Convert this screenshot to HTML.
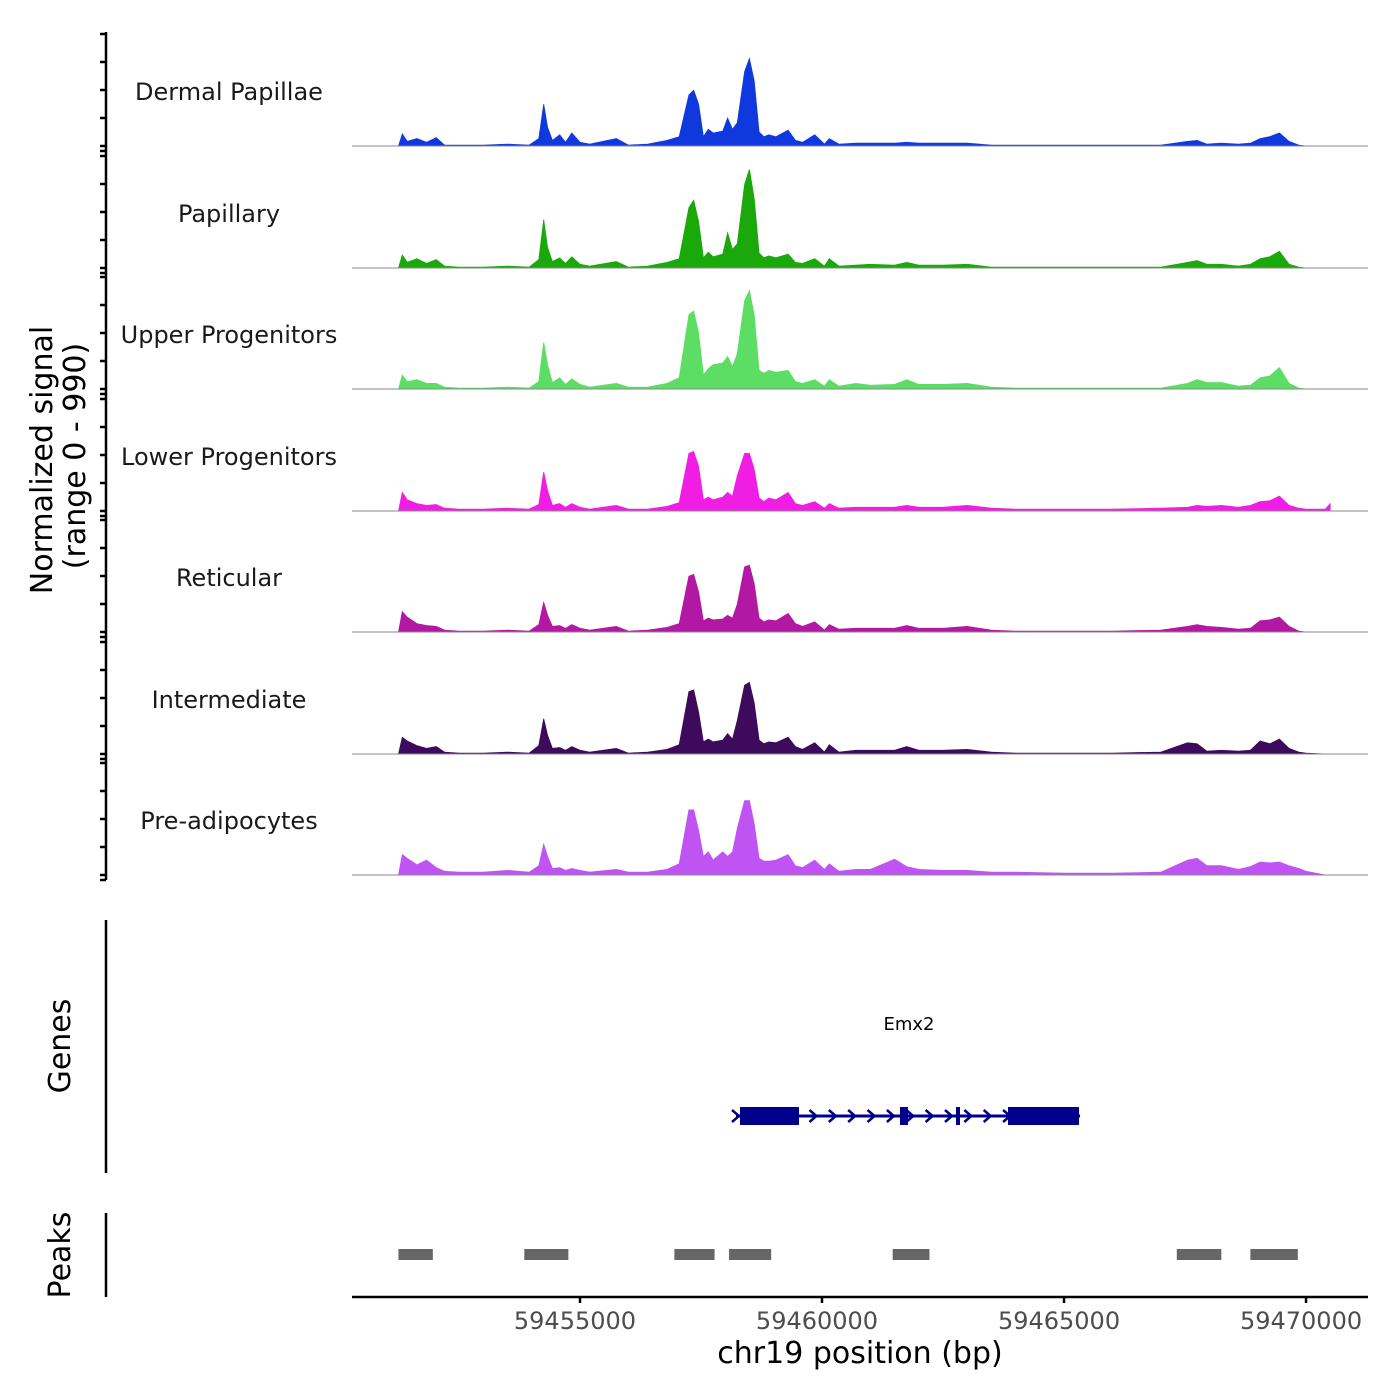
<!DOCTYPE html>
<html><head><meta charset="utf-8"><style>
html,body{margin:0;padding:0;background:#fff;}
svg{display:block;font-family:"DejaVu Sans","Liberation Sans",sans-serif;}
</style></head><body>
<svg id="chart" width="1400" height="1400" viewBox="0 0 1400 1400"></svg>
<script>
// ---- data ----
const trackNames = ["Dermal Papillae","Papillary","Upper Progenitors","Lower Progenitors","Reticular","Intermediate","Pre-adipocytes"];
const trackColors = ["#1039dd","#1aa80b","#5bde63","#f01ee4","#b318a4","#3d0a5c","#c054f3"];
const bins = [59451250,59451330,59451430,59451630,59451830,59452030,59452200,59452500,59453000,59453500,59453950,59454150,59454250,59454330,59454430,59454580,59454700,59454830,59455000,59455200,59455750,59456000,59456400,59456800,59457050,59457250,59457350,59457450,59457550,59457650,59457750,59457950,59458050,59458150,59458250,59458400,59458500,59458600,59458700,59458800,59458900,59459050,59459300,59459450,59459600,59459850,59460050,59460150,59460350,59460700,59461000,59461500,59461750,59462000,59462500,59463000,59463500,59464000,59465000,59466000,59467000,59467550,59467750,59467950,59468250,59468600,59468850,59469050,59469250,59469450,59469650,59469850,59470000,59470400,59470500];
const sigDermal = [0,130,50,80,40,90,10,10,10,20,10,80,450,200,60,120,40,140,40,20,80,10,20,60,100,550,600,450,100,180,140,160,300,180,250,800,940,700,150,100,120,100,170,60,40,120,20,80,20,30,30,30,40,30,30,30,10,10,10,10,10,50,60,20,30,20,30,80,100,140,50,10,0,0,0];
const sigPapillary = [0,140,60,100,50,90,20,10,10,20,10,90,520,220,70,110,50,120,40,20,70,10,20,60,100,650,730,500,110,170,120,150,380,200,260,900,1060,750,160,110,130,110,150,60,50,100,20,100,20,30,40,30,60,30,30,40,10,10,10,10,10,60,80,40,40,20,40,100,120,180,40,10,0,0,0];
const sigUpper = [0,150,80,100,60,60,20,10,10,20,10,80,500,260,70,120,50,110,50,20,60,20,20,60,120,800,840,600,150,220,260,280,350,240,380,950,1060,800,200,170,200,180,200,80,60,100,30,100,30,60,40,50,100,50,50,60,20,10,10,10,10,60,100,70,70,30,40,120,140,230,60,10,0,0,0];
const sigLower = [0,200,120,80,60,70,30,20,20,30,20,70,420,220,60,80,40,80,40,20,60,20,20,50,90,620,640,480,120,150,120,150,200,160,380,620,620,450,140,100,140,120,200,80,60,100,30,80,30,40,40,40,60,40,40,60,30,20,20,20,30,40,60,50,60,40,60,100,110,160,60,30,20,20,80];
const sigReticular = [0,220,160,90,70,60,20,10,10,20,10,80,320,180,60,70,40,80,40,20,60,10,20,50,90,600,620,430,120,150,130,140,180,150,300,700,720,520,150,110,130,120,200,90,60,110,20,80,30,40,40,40,70,40,40,60,20,10,10,10,20,60,80,60,50,30,40,120,130,160,60,10,0,0,0];
const sigInter = [0,180,140,90,60,80,20,10,10,20,10,90,380,200,60,70,40,80,40,20,60,10,20,50,100,670,690,450,130,160,130,150,220,160,360,740,770,550,150,110,130,120,180,80,50,120,20,100,20,40,40,40,80,40,40,50,20,10,10,10,20,120,110,30,40,30,40,140,110,160,60,20,10,0,0];
const sigPreadip = [0,220,180,110,160,80,40,30,30,50,30,100,330,200,70,80,50,70,50,30,60,30,30,60,120,700,700,480,200,250,160,250,200,250,500,800,800,550,180,150,150,160,220,100,80,160,60,120,40,60,60,170,90,60,50,50,30,30,20,20,30,160,180,100,100,60,90,140,130,140,100,70,40,0,0];
const signals = [sigDermal,sigPapillary,sigUpper,sigLower,sigReticular,sigInter,sigPreadip];
const xTicks = [59455000,59460000,59465000,59470000];
const peakStarts = [59451250,59453850,59456950,59458080,59461460,59467330,59468850];
const peakEnds   = [59451960,59454760,59457780,59458950,59462220,59468250,59469830];
const geneName = "Emx2";
const geneStart = 59458223;
const geneEnd = 59465330;
const exonStarts = [59458306,59461611,59462768,59463843];
const exonEnds   = [59459525,59461777,59462851,59465310];
</script>
<script>
const NS="http://www.w3.org/2000/svg";
const svg=document.getElementById('chart');
function mk(tag,attrs,parent){const e=document.createElementNS(NS,tag);for(const k in attrs)e.setAttribute(k,attrs[k]);(parent||svg).appendChild(e);return e;}
const X0=352,X1=1368,BP0=59450290,BP1=59471280;
function xs(bp){return X0+(bp-BP0)/(BP1-BP0)*(X1-X0);}
function ys(v,base){return base-v/990*92;}
const baselines=[146,268,389,511,632,754,875];

let a=mk('line',{x1:106,y1:32,x2:106,y2:880,stroke:'#000','stroke-width':2.5});


baselines.forEach((b,i)=>{
  [b-112,b-84,b-56,b-28,b,b+5].forEach(t=>{
    const tk=mk('line',{x1:100,y1:t,x2:106,y2:t,stroke:'#000','stroke-width':2.5});
    
    
  });
  const g=mk('g',{});
  
  
  const vals=signals[i];
  let d='M'+xs(bins[0]).toFixed(1)+','+b;
  bins.forEach((bp,j)=>{d+=' L'+xs(bp).toFixed(1)+','+ys(vals[j],b).toFixed(1);});
  d+=' L'+xs(bins[bins.length-1]).toFixed(1)+','+b+' Z';
  const p=mk('path',{d:d,fill:trackColors[i],stroke:trackColors[i],'stroke-width':0.8},g);
  
  
  const bl=mk('line',{x1:X0,y1:b,x2:X1,y2:b,stroke:'#888','stroke-width':1},g);
  
  
  const lab=mk('text',{x:229,y:b-46,'text-anchor':'middle','font-size':24,fill:'#1a1a1a'});
  lab.textContent=trackNames[i];
  
  
});
let yt=mk('text',{transform:'translate(52,460) rotate(-90)','text-anchor':'middle','font-size':30,fill:'#000'});
yt.textContent='Normalized signal';


let yt2=mk('text',{transform:'translate(85,456) rotate(-90)','text-anchor':'middle','font-size':30,fill:'#000'});
yt2.textContent='(range 0 - 990)';



let ga=mk('line',{x1:106,y1:920,x2:106,y2:1173,stroke:'#000','stroke-width':2.5});


let gt=mk('text',{transform:'translate(70,1046) rotate(-90)','text-anchor':'middle','font-size':30,fill:'#000'});
gt.textContent='Genes';


let gl=mk('text',{x:909,y:1030,'text-anchor':'middle','font-size':18,fill:'#000'});
gl.textContent=geneName;


const gg=mk('g',{});


const gy=1116;
mk('line',{x1:xs(geneStart),y1:gy,x2:xs(geneEnd),y2:gy,stroke:'#00008b','stroke-width':3},gg);
for(let bp=geneStart;bp<geneEnd;bp+=400){
  const x=xs(bp);
  mk('polyline',{points:(x-4)+','+(gy-6)+' '+(x+3)+','+gy+' '+(x-4)+','+(gy+6),fill:'none',stroke:'#00008b','stroke-width':2.5},gg);
}
exonStarts.forEach((s,i)=>{
  const x1=xs(s),x2=xs(exonEnds[i]);
  const r=mk('rect',{x:x1,y:gy-9,width:Math.max(x2-x1,3),height:18,fill:'#00008b'},gg);
  
  
});

let pa=mk('line',{x1:106,y1:1213,x2:106,y2:1297,stroke:'#000','stroke-width':2.5});


let pt=mk('text',{transform:'translate(70,1255) rotate(-90)','text-anchor':'middle','font-size':30,fill:'#000'});
pt.textContent='Peaks';


peakStarts.forEach((s,i)=>{
  const r=mk('rect',{x:xs(s),y:1249,width:xs(peakEnds[i])-xs(s),height:11,fill:'#666'});
  
  
});

let xa=mk('line',{x1:X0,y1:1297,x2:X1,y2:1297,stroke:'#000','stroke-width':2.5});


xTicks.forEach(t=>{
  const x=xs(t);
  const tk=mk('line',{x1:x,y1:1297,x2:x,y2:1303,stroke:'#000','stroke-width':2.5});
  
  
  const tl=mk('text',{x:x-5,y:1329,'text-anchor':'middle','font-size':24,fill:'#4d4d4d'});
  tl.textContent=String(t);
  
  
});
let xt=mk('text',{x:860,y:1363,'text-anchor':'middle','font-size':30,fill:'#000'});
xt.textContent='chr19 position (bp)';


</script>
</body></html>
